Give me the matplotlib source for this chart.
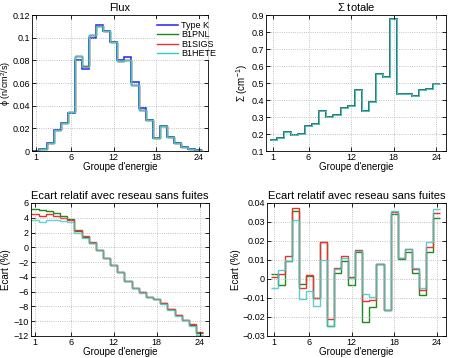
import matplotlib
matplotlib.use("Agg")
import matplotlib.pyplot as plt
import numpy as np

plt.rcParams['font.family'] = ['Liberation Sans', 'DejaVu Sans']
plt.rcParams['mathtext.fontset'] = 'custom'
plt.rcParams['mathtext.rm'] = 'Liberation Sans'
plt.rcParams['mathtext.it'] = 'Liberation Sans'

# energy groups 1..24
groups = np.arange(1, 25)
edges = np.arange(0.5, 25.5, 1.0)

# Flux (n/cm2/s)
flux_typek = [0.0005, 0.0015, 0.0072, 0.0183, 0.025, 0.0333, 0.0805, 0.0723, 0.0998, 0.1108,
              0.1057, 0.0965, 0.0802, 0.0826, 0.0605, 0.0378, 0.027, 0.0112, 0.0224, 0.0127,
              0.0068, 0.0032, 0.002, 0.001]
flux_b1pnl = [0.0005, 0.0015, 0.0074, 0.0186, 0.0252, 0.0345, 0.0838, 0.0748, 0.1025, 0.1105,
              0.1055, 0.0962, 0.0795, 0.0806, 0.0583, 0.0363, 0.027, 0.0112, 0.0222, 0.0128,
              0.0068, 0.0032, 0.002, 0.001]
flux_b1sigs = [0.0005, 0.0015, 0.0074, 0.0186, 0.0252, 0.0345, 0.0838, 0.0748, 0.1025, 0.1105,
               0.1055, 0.0962, 0.0795, 0.0806, 0.0583, 0.0363, 0.027, 0.0112, 0.0222, 0.0128,
               0.0068, 0.0032, 0.002, 0.001]
flux_b1hete = [0.0005, 0.0015, 0.0074, 0.0186, 0.0252, 0.0345, 0.0835, 0.0745, 0.1022, 0.1103,
               0.1055, 0.0962, 0.0792, 0.0803, 0.0582, 0.0362, 0.027, 0.0112, 0.0222, 0.0128,
               0.0068, 0.0032, 0.002, 0.001]

# Sigma totale (cm-1)
sigma_tot = [0.163, 0.178, 0.213, 0.197, 0.203, 0.249, 0.257, 0.338, 0.300, 0.315,
             0.353, 0.363, 0.457, 0.336, 0.390, 0.551, 0.538, 0.878, 0.433, 0.433,
             0.425, 0.460, 0.465, 0.497]

# Ecart relatif (%) - flux
ecart_flux_pnl = [5.25, 5.0, 4.95, 4.7, 4.3, 3.9, 2.2, 1.4, 0.6, -0.35, -1.4, -2.4, -3.3, -4.5,
                  -5.5, -6.1, -6.7, -7.0, -7.6, -8.4, -9.2, -9.85, -10.5, -11.6]
ecart_flux_sigs = [4.5, 4.27, 4.5, 4.2, 4.0, 3.7, 2.4, 1.55, 0.75, -0.3, -1.4, -2.4, -3.3, -4.5,
                   -5.5, -6.1, -6.7, -7.0, -7.6, -8.4, -9.2, -9.8, -10.4, -11.5]
ecart_flux_hete = [3.7, 3.4, 3.7, 3.7, 3.6, 3.4, 2.0, 1.3, 0.55, -0.4, -1.45, -2.45, -3.35, -4.55,
                   -5.55, -6.15, -6.75, -7.05, -7.65, -8.45, -9.25, -9.9, -10.7, -11.8]

# Ecart relatif (%) - sigma
ecart_sig_pnl = [0.0025, -0.0032, 0.0093, 0.0358, -0.0027, 0.0017, -0.0100, 0.0193, -0.0245, 0.0030,
                 0.0094, -0.0030, 0.0143, -0.0226, -0.0145, 0.0077, -0.0163, 0.0340, 0.0105, 0.0141,
                 0.0034, -0.0082, 0.0144, 0.0320]
ecart_sig_sigs = [0.0013, 0.0025, 0.0120, 0.0376, -0.0047, 0.0019, -0.0100, 0.0194, -0.0212, 0.0060,
                  0.0120, 0.0008, 0.0150, -0.0117, -0.0110, 0.0077, -0.0163, 0.0350, 0.0113, 0.0158,
                  0.0051, -0.0058, 0.0168, 0.0348]
ecart_sig_hete = [-0.0045, 0.0047, 0.0095, 0.0310, -0.0105, -0.0064, -0.0143, 0.0099, -0.0245, 0.0050,
                  0.0110, 0.0006, 0.0145, -0.0079, -0.0096, 0.0077, -0.0163, 0.0358, 0.0110, 0.0160,
                  0.0058, -0.0050, 0.0195, 0.0369]

xticks = [1, 6, 12, 18, 24]

C_BLUE = '#2020ff'
C_GREEN = '#1a8a1a'
C_RED = '#f03030'
C_CYAN = '#3cc8c8'

fig = plt.figure(figsize=(4.5, 3.58), dpi=100)

def style(ax, xlim, ylim, yticks, ylabels, title, ylabel, ylab_x, ylab_size=7):
    ax.set_xlim(xlim)
    ax.set_ylim(ylim)
    ax.set_xticks(xticks)
    ax.set_xticklabels([str(t) for t in xticks])
    ax.set_yticks(yticks)
    ax.set_yticklabels(ylabels)
    ax.tick_params(direction='in', length=3, width=0.6, labelsize=6.5,
                   top=True, right=True, pad=1.5)
    ax.grid(True, linestyle=':', color='#b0b0b0', linewidth=0.6)
    for s in ax.spines.values():
        s.set_linewidth(0.6)
    ax.set_title(title, fontsize=8, pad=3)
    ax.set_xlabel("Groupe d'energie", fontsize=7, labelpad=0)
    ax.set_ylabel(ylabel, fontsize=ylab_size)
    ax.yaxis.set_label_coords(ylab_x, 0.5)

# Flux
ax1 = fig.add_axes([0.0711, 0.578, 0.391, 0.380])
ax1.stairs(flux_typek, edges, baseline=None, color=C_BLUE, lw=1.1, label='Type K')
ax1.stairs(flux_b1pnl, edges, baseline=None, color=C_GREEN, lw=1.0, label='B1PNL')
ax1.stairs(flux_b1sigs, edges, baseline=None, color=C_RED, lw=1.0, label='B1SIGS')
ax1.stairs(flux_b1hete, edges, baseline=None, color=C_CYAN, lw=1.0, label='B1HETE')
style(ax1, (0.45, 25.3), (0, 0.12), [0, 0.02, 0.04, 0.06, 0.08, 0.1, 0.12],
      ['0', '0.02', '0.04', '0.06', '0.08', '0.1', '0.12'], 'Flux', r'$\phi$ (n/cm$^2$/s)',
      -0.108, 6.5)
leg = ax1.legend(loc='upper left', bbox_to_anchor=(0.7, 0.97), fontsize=6.5, frameon=True,
                 handlelength=2.3, labelspacing=0.05, borderaxespad=0, borderpad=0.2,
                 handletextpad=0.35)
leg.get_frame().set_edgecolor('white')
leg.get_frame().set_linewidth(0)

# Sigma totale
ax2 = fig.add_axes([0.591, 0.578, 0.400, 0.380])
ax2.stairs(sigma_tot, edges, baseline=None, color='#2a6a5a', lw=1.3)
ax2.stairs(sigma_tot, edges, baseline=None, color=C_CYAN, lw=0.7)
style(ax2, (0, 25.35), (0.1, 0.9), [0.1, 0.2, 0.3, 0.4, 0.5, 0.6, 0.7, 0.8, 0.9],
      ['0.1', '0.2', '0.3', '0.4', '0.5', '0.6', '0.7', '0.8', '0.9'],
      r'$\Sigma$ totale', r'$\Sigma$ (cm$^{-1}$)', -0.09)

# Ecart flux
ax3 = fig.add_axes([0.0689, 0.0615, 0.3956, 0.3715])
ax3.stairs(ecart_flux_pnl, edges, baseline=None, color=C_GREEN, lw=1.0)
ax3.stairs(ecart_flux_sigs, edges, baseline=None, color=C_RED, lw=1.0)
ax3.stairs(ecart_flux_hete, edges, baseline=None, color=C_CYAN, lw=1.0, alpha=0.8)
style(ax3, (0.45, 25.3), (-12, 6), list(range(-12, 7, 2)),
      [str(v).replace('-', '\u2212') for v in range(-12, 7, 2)],
      'Ecart relatif avec reseau sans fuites', 'Ecart (%)', -0.11)

# Ecart sigma
ax4 = fig.add_axes([0.5933, 0.0615, 0.398, 0.3715])
ax4.stairs(ecart_sig_pnl, edges, baseline=None, color=C_GREEN, lw=1.0)
ax4.stairs(ecart_sig_sigs, edges, baseline=None, color=C_RED, lw=1.0)
ax4.stairs(ecart_sig_hete, edges, baseline=None, color=C_CYAN, lw=1.0, alpha=0.85)
style(ax4, (0, 25.35), (-0.03, 0.04), [-0.03, -0.02, -0.01, 0, 0.01, 0.02, 0.03, 0.04],
      ['\u22120.03', '\u22120.02', '\u22120.01', '0', '0.01', '0.02', '0.03', '0.04'],
      'Ecart relatif avec reseau sans fuites', 'Ecart (%)', -0.145)

fig.savefig('out.png', dpi=100)
